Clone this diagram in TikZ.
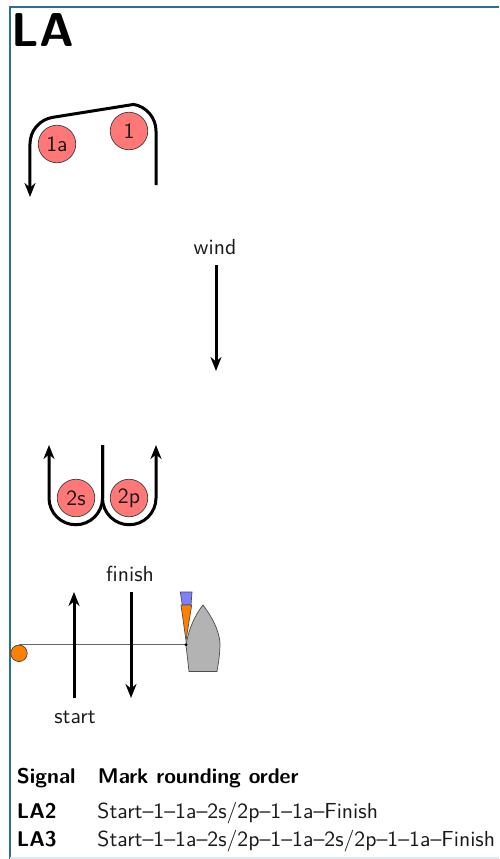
\documentclass[tikz,border=0pt]{standalone}
\usetikzlibrary{arrows.meta}
\renewcommand{\familydefault}{\sfdefault}
\definecolor{frameblue}{HTML}{2B6F95}
\definecolor{markred}{HTML}{FF7777}
\definecolor{pinorange}{HTML}{FF8000}
\definecolor{flagblue}{HTML}{8080FF}
\definecolor{boatgray}{HTML}{B3B3B3}
\tikzset{
 x=1pt,y=-1pt,
 txt/.style={scale=2.175,transform shape,inner sep=0pt,font=\fontsize{10}{12}\selectfont},
 markc/.style={circle,draw=black!75,line width=0.7pt,fill=markred,minimum size=37.5pt,inner sep=0pt},
 marktxt/.style={txt,text=black!90},
 arr/.style={line width=3pt,-{Stealth[length=14pt,width=11pt]}},
 lab/.style={txt,text=black!90,anchor=base},
 tlab/.style={txt,text=black!90,anchor=base west},
 thead/.style={scale=2.13,transform shape,inner sep=0pt,font=\fontsize{10}{12}\selectfont\bfseries,anchor=base west},
}
\begin{document}
\begin{tikzpicture}
\useasboundingbox (0,0) rectangle (499,859);
\fill[white] (0,0) rectangle (499,859);
\draw[frameblue,line width=2pt] (499,7.5) -- (9.5,7.5) -- (9.5,859);
\draw[frameblue!15,line width=1.5pt] (10,858) -- (499,858);
\node[inner sep=0pt,anchor=base west,scale=4.75,transform shape,font=\fontsize{10}{12}\selectfont\bfseries] (title) at (11,47) {LA};
% upper marks
\node[markc] (m1a) at (57,144) {};
\node[marktxt] at (m1a) {1a};
\node[markc] (m1) at (129,131) {};
\node[marktxt] at (m1) {1};
\coordinate (upS) at (156,185);
\coordinate (upE) at (30,197);
\draw[arr] (upS) -- (156,131) arc[start angle=0,end angle=-80,radius=27] -- (52.3,117.4) arc[start angle=-100,end angle=-180,radius=27] -- (upE);
% wind
\node[lab] (wind) at (215,254) {wind};
\coordinate (windS) at (216,265);
\coordinate (windE) at (216,371);
\draw[arr] (windS) -- (windE);
% lower marks
\node[markc] (m2s) at (76,498) {};
\node[marktxt] at (m2s) {2s};
\node[markc] (m2p) at (129,498) {};
\node[marktxt] at (m2p) {2p};
\coordinate (loC) at (102.5,445);
\coordinate (loL) at (49,445);
\coordinate (loR) at (156,445);
\draw[arr] (loC) -- (102.5,498) arc[start angle=0,end angle=180,radius=26.75] -- (loL);
\draw[arr] (loC) -- (102.5,498) arc[start angle=180,end angle=0,radius=26.75] -- (loR);
% line
\node[circle,draw=black!80,line width=0.6pt,fill=pinorange,minimum size=16.5pt,inner sep=0pt] (pin) at (19,653.3) {};
\coordinate (lineEnd) at (186,0 |- pin.north);
\draw[black!60,line width=1.2pt] (pin.north) -- (lineEnd);
% boat
\path[draw=black!70,line width=0.7pt,fill=boatgray] (186,645) .. controls (189,628) and (195,615) .. (203,605) .. controls (212,617) and (219,630) .. (220,643) .. controls (220,655) and (218,665) .. (217,671.5) -- (189,671.5) -- cycle;
\path[draw=black!70,line width=0.7pt,fill=flagblue] (180.3,592) -- (192,592) -- (191,605) -- (182.3,605) -- cycle;
\path[draw=black!70,line width=0.7pt,fill=pinorange] (181,605) -- (191.7,605) -- (186,640.6) -- cycle;
\fill[black] (lineEnd) circle (1.6pt);
% start finish
\coordinate (stS) at (74,698);
\coordinate (stE) at (74,592);
\draw[arr] (stS) -- (stE);
\coordinate (fiS) at (131,592);
\coordinate (fiE) at (131,698);
\draw[arr] (fiS) -- (fiE);
\node[lab] (start) at (75,723) {start};
\node[lab] (finish) at (130,581) {finish};
% table
\node[thead] (h1) at (16.5,783) {Signal};
\node[thead] (h2) at (97.5,783) {Mark rounding order};
\node[thead] (r1) at (16.5,818) {LA2};
\node[tlab] (r1t) at (97,818) {Start--1--1a--2s/2p--1--1a--Finish};
\node[thead] (r2) at (16.5,846) {LA3};
\node[tlab] (r2t) at (97,846) {Start--1--1a--2s/2p--1--1a--2s/2p--1--1a--Finish};
\end{tikzpicture}
\end{document}
